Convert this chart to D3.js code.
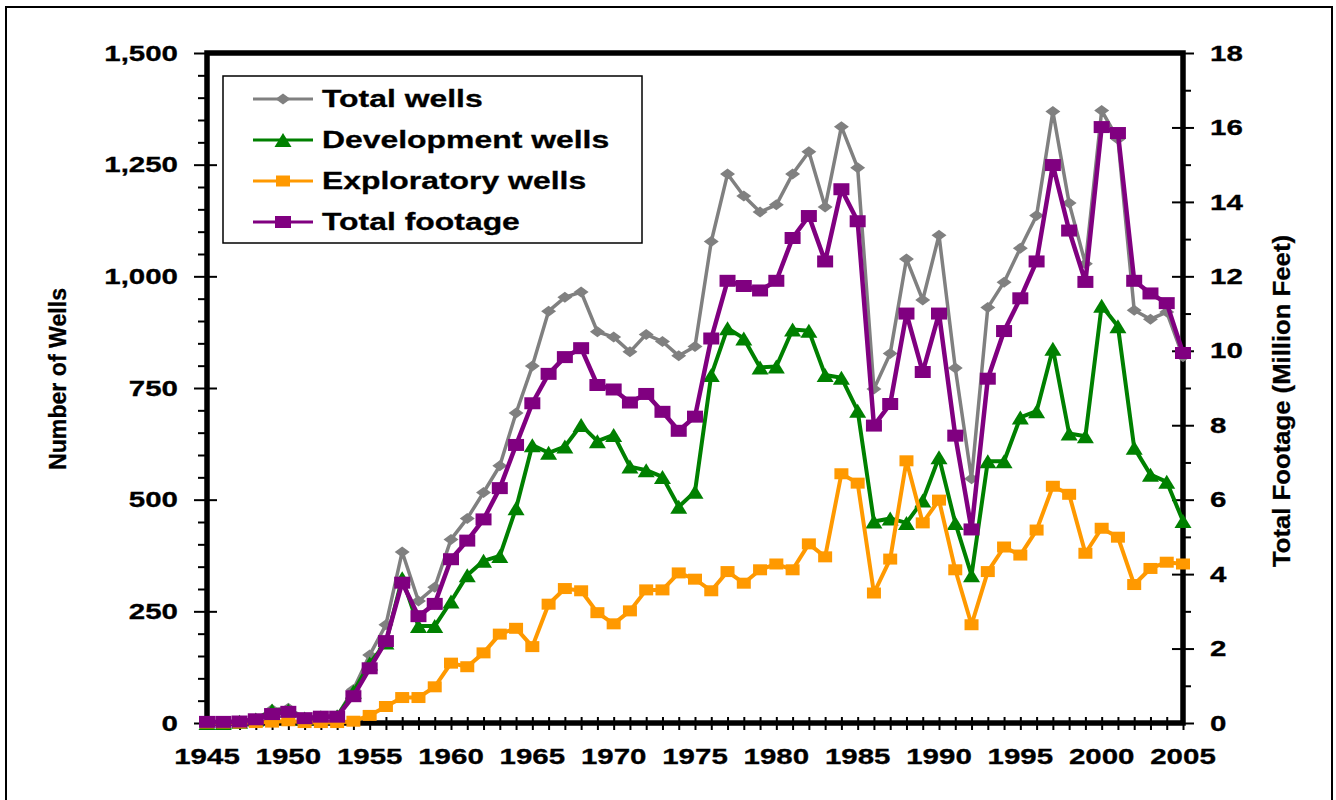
<!DOCTYPE html>
<html>
<head>
<meta charset="utf-8">
<script src="https://cdn.jsdelivr.net/npm/d3@7"></script>
<style>
  body { margin: 0; background: #fff; }
  svg { display: block; }
  text { font-family: "Liberation Sans", Arial, sans-serif; font-weight: bold; fill: #000; stroke: #000; stroke-width: 0.3px; }
</style>
</head>
<body>
<svg id="chart" width="1336" height="800"></svg>
<script>
// Drilling activity, 1945-2005
const years = [1945,1946,1947,1948,1949,1950,1951,1952,1953,1954,
  1955,1956,1957,1958,1959,1960,1961,1962,1963,1964,
  1965,1966,1967,1968,1969,1970,1971,1972,1973,1974,
  1975,1976,1977,1978,1979,1980,1981,1982,1983,1984,
  1985,1986,1987,1988,1989,1990,1991,1992,1993,1994,
  1995,1996,1997,1998,1999,2000,2001,2002,2003,2004,2005];

// Number of wells (left axis)
const totalWells = [0,1,3,9,30,33,11,14,16,75,
  152,220,383,273,304,411,458,516,576,694,
  799,922,953,965,876,864,831,870,854,822,
  843,1078,1229,1180,1144,1160,1229,1279,1155,1335,
  1243,748,827,1039,947,1092,795,547,930,987,
  1063,1136,1369,1164,1028,1371,1307,924,904,920,820];

const developmentWells = [0,0,3,8,28,28,10,13,15,70,
  133,180,324,217,217,272,331,363,374,481,
  622,605,619,667,631,645,574,566,551,484,
  518,779,884,861,796,798,881,878,779,773,
  699,451,458,448,498,595,448,331,586,586,
  684,698,838,648,642,934,888,616,556,540,452];

const exploratoryWells = [0,0,0,1,2,5,1,1,1,4,
  17,37,57,57,81,134,126,157,199,212,
  171,266,301,296,247,222,251,298,298,336,
  322,296,339,313,343,356,343,401,372,558,
  537,291,367,587,448,499,343,220,339,394,
  376,432,530,512,380,436,416,310,346,360,356];

// Total footage, million feet (right axis)
const totalFootage = [0.03,0.03,0.04,0.10,0.24,0.30,0.13,0.17,0.17,0.72,
  1.47,2.20,3.77,2.87,3.20,4.40,4.90,5.47,6.31,7.47,
  8.59,9.38,9.83,10.07,9.08,8.96,8.61,8.84,8.36,7.85,
  8.23,10.33,11.88,11.74,11.62,11.88,13.03,13.62,12.40,14.34,
  13.48,7.99,8.57,11.00,9.43,11.00,7.72,5.20,9.25,10.53,
  11.41,12.40,14.99,13.23,11.85,16.01,15.85,11.88,11.54,11.28,9.94];

const seriesNames = ["Total wells", "Development wells", "Exploratory wells", "Total footage"];
const leftTicks = [0, 250, 500, 750, 1000, 1250, 1500];
const rightTicks = [0, 2, 4, 6, 8, 10, 12, 14, 16, 18];
const yearTicks = [1945, 1950, 1955, 1960, 1965, 1970, 1975, 1980, 1985, 1990, 1995, 2000, 2005];
const leftTitle = "Number of Wells";
const rightTitle = "Total Footage (Million Feet)";

const svg = d3.select("#chart");
const plot = { left: 207, right: 1183, top: 53, bottom: 723 };

const x = d3.scaleLinear().domain([1945, 2005]).range([plot.left, plot.right]);
const yL = d3.scaleLinear().domain([0, 1500]).range([plot.bottom, plot.top]);
const yR = d3.scaleLinear().domain([0, 18]).range([plot.bottom, plot.top]);

svg.append("rect").attr("width", 1336).attr("height", 800).attr("fill", "#fff");
// outer chart border
svg.append("rect").attr("x", 6).attr("y", 7).attr("width", 1326).attr("height", 820)
  .attr("fill", "none").attr("stroke", "#000").attr("stroke-width", 2);

function tickGroup(tx, ty, axis) {
  const g = svg.append("g").attr("transform", `translate(${tx},${ty})`).call(axis.tickFormat(""));
  g.select(".domain").remove();
  g.selectAll("line").attr("stroke", "#000").attr("stroke-width", 2);
  g.selectAll("text").remove();
  return g;
}

const minorLeft = d3.range(50, 1500, 50).filter(v => v % 250 !== 0);
const minorRight = d3.range(1, 18, 2);

// left axis ticks: major cross the axis, minor outside
tickGroup(plot.left, 0, d3.axisLeft(yL).tickValues(leftTicks).tickSize(13));
tickGroup(plot.left, 0, d3.axisRight(yL).tickValues(leftTicks).tickSize(10));
tickGroup(plot.left, 0, d3.axisLeft(yL).tickValues(minorLeft).tickSize(9));
// right axis ticks
tickGroup(plot.right, 0, d3.axisRight(yR).tickValues(rightTicks).tickSize(11));
tickGroup(plot.right, 0, d3.axisLeft(yR).tickValues(rightTicks).tickSize(11));
tickGroup(plot.right, 0, d3.axisRight(yR).tickValues(minorRight).tickSize(8));
// bottom axis ticks, one per year
tickGroup(0, plot.bottom, d3.axisBottom(x).tickValues(years).tickSize(7));
tickGroup(0, plot.bottom, d3.axisTop(x).tickValues(years).tickSize(6));

// plot frame (axes lines)
svg.append("rect")
  .attr("x", plot.left).attr("y", plot.top)
  .attr("width", plot.right - plot.left).attr("height", plot.bottom - plot.top)
  .attr("fill", "none").attr("stroke", "#000").attr("stroke-width", 5.5);

const fmt = d3.format(",");
const sx = 1.34;

svg.append("g").selectAll("text").data(leftTicks).join("text")
  .attr("transform", d => `translate(178,${yL(d)}) scale(${sx},1)`)
  .attr("text-anchor", "end").attr("dominant-baseline", "central")
  .style("font-size", "22px").text(d => fmt(d));

svg.append("g").selectAll("text").data(rightTicks).join("text")
  .attr("transform", d => `translate(1210,${yR(d)}) scale(${sx},1)`)
  .attr("text-anchor", "start").attr("dominant-baseline", "central")
  .style("font-size", "22px").text(d => d);

svg.append("g").selectAll("text").data(yearTicks).join("text")
  .attr("transform", d => `translate(${x(d)},756) scale(${sx},1)`)
  .attr("text-anchor", "middle").attr("dominant-baseline", "central")
  .style("font-size", "22px").text(d => d);

// axis titles
svg.append("text")
  .attr("transform", "translate(57,379) rotate(-90)")
  .attr("text-anchor", "middle").attr("dominant-baseline", "central")
  .attr("textLength", 182).attr("lengthAdjust", "spacingAndGlyphs")
  .style("font-size", "24px").text(leftTitle);

svg.append("text")
  .attr("transform", "translate(1281,401) rotate(-90)")
  .attr("text-anchor", "middle").attr("dominant-baseline", "central")
  .attr("textLength", 332).attr("lengthAdjust", "spacingAndGlyphs")
  .style("font-size", "24px").text(rightTitle);

// marker shapes
const shapes = {
  diamond: (w, h) => `M0,${-h / 2}L${w / 2},0L0,${h / 2}L${-w / 2},0Z`,
  triangle: (w, h) => `M0,${-h / 2}L${w / 2},${h / 2}L${-w / 2},${h / 2}Z`,
  rect: (w, h) => `M${-w / 2},${-h / 2}h${w}v${h}h${-w}Z`
};

const series = [
  { name: seriesNames[0], values: totalWells, y: yL, color: "#808080", width: 3.5, shape: "diamond", mw: 15, mh: 11 },
  { name: seriesNames[1], values: developmentWells, y: yL, color: "#008000", width: 4, shape: "triangle", mw: 17, mh: 14 },
  { name: seriesNames[2], values: exploratoryWells, y: yL, color: "#FF9900", width: 4, shape: "rect", mw: 14, mh: 11 },
  { name: seriesNames[3], values: totalFootage, y: yR, color: "#800080", width: 4.5, shape: "rect", mw: 16, mh: 12 }
];

series.forEach(s => {
  const line = d3.line().x((d, i) => x(years[i])).y(d => s.y(d));
  const g = svg.append("g");
  g.append("path").datum(s.values).attr("d", line)
    .attr("fill", "none").attr("stroke", s.color).attr("stroke-width", s.width)
    .attr("stroke-linejoin", "round");
  g.selectAll("path.m").data(s.values).join("path").attr("class", "m")
    .attr("transform", (d, i) => `translate(${x(years[i])},${s.y(d)})`)
    .attr("d", shapes[s.shape](s.mw, s.mh))
    .attr("fill", s.color);
});

// legend
const legend = svg.append("g");
legend.append("rect").attr("x", 223).attr("y", 76).attr("width", 419).attr("height", 167)
  .attr("fill", "#fff").attr("stroke", "#000").attr("stroke-width", 1.5);
const items = legend.selectAll("g.item").data(series).join("g").attr("class", "item")
  .attr("transform", (d, i) => `translate(0,${99 + i * 41})`);
items.append("line").attr("x1", 253).attr("x2", 313).attr("y1", 0).attr("y2", 0)
  .attr("stroke", d => d.color).attr("stroke-width", 3);
items.append("path").attr("transform", "translate(283,0)")
  .attr("d", d => shapes[d.shape](d.mw, d.mh)).attr("fill", d => d.color);
items.append("text").attr("transform", `translate(322,0) scale(1.33,1)`)
  .attr("dominant-baseline", "central").style("font-size", "24px").text(d => d.name);
</script>
</body>
</html>
